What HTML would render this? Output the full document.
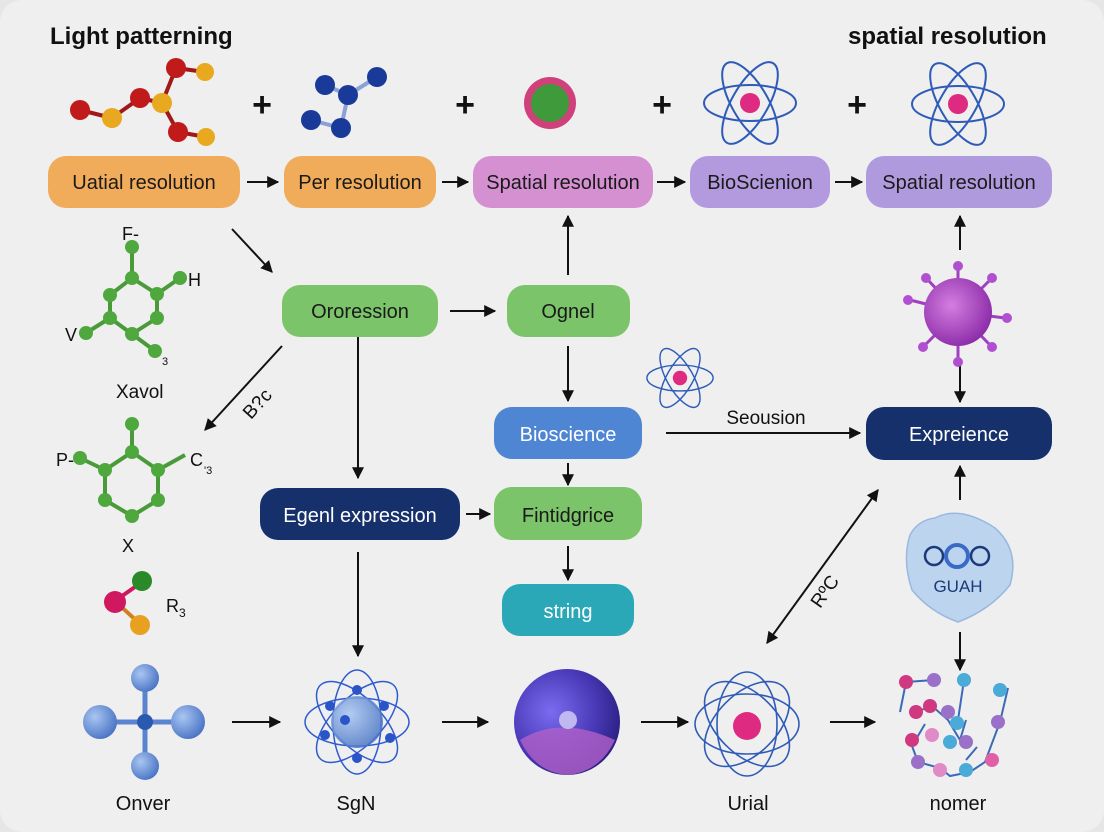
<!DOCTYPE html>
<html><head><meta charset="utf-8"><style>
html,body{margin:0;padding:0;background:#e6e6e6;}
svg{display:block;}
text{font-family:"Liberation Sans",sans-serif;}
</style></head><body>
<svg width="1104" height="832" viewBox="0 0 1104 832" xmlns="http://www.w3.org/2000/svg">
<defs>
<marker id="ah" viewBox="0 0 10 10" refX="9" refY="5" markerWidth="6" markerHeight="6" orient="auto-start-reverse"><path d="M0,0 L10,5 L0,10 z" fill="#111"/></marker>
<radialGradient id="gb" cx="35%" cy="35%" r="70%"><stop offset="0" stop-color="#a9c6f2"/><stop offset="1" stop-color="#4a74c4"/></radialGradient>
<radialGradient id="gsph" cx="35%" cy="40%" r="70%"><stop offset="0" stop-color="#7a6cf0"/><stop offset="0.6" stop-color="#4a3ab8"/><stop offset="1" stop-color="#2a1e80"/></radialGradient>
<radialGradient id="gv" cx="40%" cy="40%" r="65%"><stop offset="0" stop-color="#d47ee0"/><stop offset="1" stop-color="#8a2aa8"/></radialGradient>
<g id="atom" fill="none" stroke="#2e5bb8" stroke-width="2">
<ellipse cx="0" cy="0" rx="46" ry="18"/>
<ellipse cx="0" cy="0" rx="46" ry="18" transform="rotate(60)"/>
<ellipse cx="0" cy="0" rx="46" ry="18" transform="rotate(120)"/>
<circle cx="0" cy="0" r="10" fill="#de2a80" stroke="none"/>
</g>
</defs>
<rect x="0" y="0" width="1104" height="832" rx="22" fill="#efefef"/>
<text x="50" y="44" font-size="24" font-weight="bold" fill="#111">Light patterning</text>
<text x="848" y="44" font-size="24" font-weight="bold" fill="#111">spatial resolution</text>
<!-- top molecules -->
<g stroke="#a01818" stroke-width="4"><line x1="80" y1="110" x2="112" y2="118"/><line x1="112" y1="118" x2="140" y2="98"/><line x1="140" y1="98" x2="162" y2="103"/><line x1="162" y1="103" x2="176" y2="68"/><line x1="176" y1="68" x2="205" y2="72"/><line x1="162" y1="103" x2="178" y2="132"/><line x1="178" y1="132" x2="206" y2="137"/></g>
<circle cx="80" cy="110" r="10" fill="#c01a1a"/><circle cx="112" cy="118" r="10" fill="#e8a820"/><circle cx="140" cy="98" r="10" fill="#c01a1a"/><circle cx="162" cy="103" r="10" fill="#e8a820"/><circle cx="176" cy="68" r="10" fill="#c01a1a"/><circle cx="205" cy="72" r="9" fill="#e8a820"/><circle cx="178" cy="132" r="10" fill="#c01a1a"/><circle cx="206" cy="137" r="9" fill="#e8a820"/>
<g stroke="#8aa0d8" stroke-width="4"><line x1="325" y1="85" x2="348" y2="95"/><line x1="348" y1="95" x2="377" y2="77"/><line x1="348" y1="95" x2="341" y2="128"/><line x1="341" y1="128" x2="311" y2="120"/></g>
<circle cx="325" cy="85" r="10" fill="#1a3a9a"/><circle cx="348" cy="95" r="10" fill="#1a3a9a"/><circle cx="377" cy="77" r="10" fill="#1a3a9a"/><circle cx="341" cy="128" r="10" fill="#1a3a9a"/><circle cx="311" cy="120" r="10" fill="#1a3a9a"/>
<circle cx="550" cy="103" r="26" fill="#d0407a"/><circle cx="550" cy="103" r="19" fill="#3e9a3a"/>
<use href="#atom" x="750" y="103"/>
<use href="#atom" x="958" y="104"/>
<g font-size="34" font-weight="bold" fill="#111" text-anchor="middle"><text x="262" y="116">+</text><text x="465" y="116">+</text><text x="662" y="116">+</text><text x="857" y="116">+</text></g>
<!-- top boxes -->
<rect x="48" y="156" width="192" height="52" rx="18" fill="#f0ac5a"/>
<rect x="284" y="156" width="152" height="52" rx="18" fill="#f0ac5a"/>
<rect x="473" y="156" width="180" height="52" rx="18" fill="#d590d2"/>
<rect x="690" y="156" width="140" height="52" rx="18" fill="#b39ade"/>
<rect x="866" y="156" width="186" height="52" rx="18" fill="#b09ade"/>
<g font-size="20" fill="#1a1a1a" text-anchor="middle"><text x="144" y="189">Uatial resolution</text><text x="360" y="189">Per resolution</text><text x="563" y="189">Spatial resolution</text><text x="760" y="189">BioScienion</text><text x="959" y="189">Spatial resolution</text></g>
<g stroke="#111" stroke-width="2" marker-end="url(#ah)" fill="none">
<line x1="247" y1="182" x2="278" y2="182"/><line x1="442" y1="182" x2="468" y2="182"/><line x1="657" y1="182" x2="685" y2="182"/><line x1="835" y1="182" x2="862" y2="182"/>
<line x1="232" y1="229" x2="272" y2="272"/>
<line x1="450" y1="311" x2="495" y2="311"/>
<line x1="568" y1="275" x2="568" y2="216"/>
<line x1="960" y1="250" x2="960" y2="216"/>
<line x1="568" y1="346" x2="568" y2="401"/>
<line x1="960" y1="366" x2="960" y2="402"/>
<line x1="282" y1="346" x2="205" y2="430"/>
<line x1="358" y1="336" x2="358" y2="478"/>
<line x1="358" y1="552" x2="358" y2="656"/>
<line x1="568" y1="463" x2="568" y2="485"/>
<line x1="466" y1="514" x2="490" y2="514"/>
<line x1="568" y1="546" x2="568" y2="580"/>
<line x1="666" y1="433" x2="860" y2="433"/>
<line x1="960" y1="500" x2="960" y2="466"/>
<line x1="960" y1="632" x2="960" y2="670"/>
<line x1="767" y1="643" x2="878" y2="490" marker-start="url(#ah)"/>
<line x1="232" y1="722" x2="280" y2="722"/><line x1="442" y1="722" x2="488" y2="722"/><line x1="641" y1="722" x2="688" y2="722"/><line x1="830" y1="722" x2="875" y2="722"/>
</g>
<!-- mid boxes -->
<rect x="282" y="285" width="156" height="52" rx="18" fill="#7cc46a"/>
<rect x="507" y="285" width="123" height="52" rx="18" fill="#7cc46a"/>
<rect x="494" y="407" width="148" height="52" rx="18" fill="#4f86d4"/>
<rect x="866" y="407" width="186" height="53" rx="18" fill="#15306a"/>
<rect x="260" y="488" width="200" height="52" rx="18" fill="#15306a"/>
<rect x="494" y="487" width="148" height="53" rx="18" fill="#7cc46a"/>
<rect x="502" y="584" width="132" height="52" rx="18" fill="#2aa8b8"/>
<g font-size="20" text-anchor="middle"><text x="360" y="318" fill="#1a1a1a">Ororession</text><text x="568" y="318" fill="#1a1a1a">Ognel</text><text x="568" y="441" fill="#fff">Bioscience</text><text x="959" y="441" fill="#fff">Expreience</text><text x="360" y="522" fill="#fff">Egenl expression</text><text x="568" y="522" fill="#1a1a1a">Fintidgrice</text><text x="568" y="618" fill="#fff">string</text></g>
<text x="766" y="424" font-size="19" text-anchor="middle" fill="#111">Seousion</text>
<text x="830" y="595" font-size="19" fill="#111" transform="rotate(-55 830 595)" text-anchor="middle">RºC</text>
<text x="262" y="408" font-size="19" fill="#111" transform="rotate(-48 262 408)" text-anchor="middle">B?c</text>
<!-- left green molecule 1 -->
<g stroke="#4a9a3a" stroke-width="4"><line x1="132" y1="245" x2="132" y2="278"/><line x1="132" y1="278" x2="110" y2="295"/><line x1="132" y1="278" x2="157" y2="294"/><line x1="157" y1="294" x2="180" y2="278"/><line x1="110" y1="295" x2="110" y2="318"/><line x1="157" y1="294" x2="157" y2="318"/><line x1="110" y1="318" x2="132" y2="334"/><line x1="157" y1="318" x2="132" y2="334"/><line x1="110" y1="318" x2="86" y2="333"/><line x1="132" y1="334" x2="155" y2="351"/></g>
<g fill="#4ea83e"><circle cx="132" cy="247" r="7"/><circle cx="132" cy="278" r="7"/><circle cx="110" cy="295" r="7"/><circle cx="157" cy="294" r="7"/><circle cx="180" cy="278" r="7"/><circle cx="110" cy="318" r="7"/><circle cx="157" cy="318" r="7"/><circle cx="132" cy="334" r="7"/><circle cx="86" cy="333" r="7"/><circle cx="155" cy="351" r="7"/></g>
<g font-size="18" fill="#111"><text x="122" y="240">F-</text><text x="188" y="286">H</text><text x="65" y="341">V</text><text x="162" y="365" font-size="11">3</text><text x="116" y="398" font-size="19">Xavol</text></g>
<!-- left green molecule 2 -->
<g stroke="#4a9a3a" stroke-width="4"><line x1="132" y1="424" x2="132" y2="452"/><line x1="132" y1="452" x2="105" y2="470"/><line x1="132" y1="452" x2="158" y2="470"/><line x1="158" y1="470" x2="185" y2="455"/><line x1="105" y1="470" x2="80" y2="458"/><line x1="105" y1="470" x2="105" y2="500"/><line x1="158" y1="470" x2="158" y2="500"/><line x1="105" y1="500" x2="132" y2="516"/><line x1="158" y1="500" x2="132" y2="516"/></g>
<g fill="#4ea83e"><circle cx="132" cy="424" r="7"/><circle cx="132" cy="452" r="7"/><circle cx="105" cy="470" r="7"/><circle cx="158" cy="470" r="7"/><circle cx="80" cy="458" r="7"/><circle cx="105" cy="500" r="7"/><circle cx="158" cy="500" r="7"/><circle cx="132" cy="516" r="7"/></g>
<g font-size="18" fill="#111"><text x="56" y="466">P-</text><text x="190" y="466">C</text><text x="204" y="474" font-size="11">'3</text><text x="122" y="552">X</text></g>
<!-- R3 molecule -->
<line x1="115" y1="601" x2="142" y2="582" stroke="#d01860" stroke-width="4"/><line x1="115" y1="601" x2="140" y2="624" stroke="#d08020" stroke-width="4"/>
<circle cx="142" cy="581" r="10" fill="#2a8a2a"/><circle cx="115" cy="602" r="11" fill="#d01860"/><circle cx="140" cy="625" r="10" fill="#e8a020"/>
<text x="166" y="612" font-size="18" fill="#111">R<tspan font-size="12" dy="5">3</tspan></text>
<!-- Onver -->
<g stroke="#5a84d0" stroke-width="5"><line x1="145" y1="680" x2="145" y2="764"/><line x1="100" y1="722" x2="188" y2="722"/></g>
<circle cx="145" cy="678" r="14" fill="url(#gb)"/><circle cx="145" cy="766" r="14" fill="url(#gb)"/><circle cx="100" cy="722" r="17" fill="url(#gb)"/><circle cx="188" cy="722" r="17" fill="url(#gb)"/><circle cx="145" cy="722" r="8" fill="#2a5ab0"/>
<!-- SgN -->
<g fill="none" stroke="#2e5bd0" stroke-width="1.5"><ellipse cx="357" cy="722" rx="52" ry="24"/><ellipse cx="357" cy="722" rx="52" ry="24" transform="rotate(45 357 722)"/><ellipse cx="357" cy="722" rx="52" ry="24" transform="rotate(90 357 722)"/><ellipse cx="357" cy="722" rx="52" ry="24" transform="rotate(135 357 722)"/></g>
<circle cx="357" cy="722" r="26" fill="url(#gb)" opacity="0.85"/>
<g fill="#2a55c8"><circle cx="357" cy="690" r="5"/><circle cx="330" cy="706" r="5"/><circle cx="384" cy="706" r="5"/><circle cx="325" cy="735" r="5"/><circle cx="390" cy="738" r="5"/><circle cx="357" cy="758" r="5"/><circle cx="345" cy="720" r="5"/></g>
<!-- sphere -->
<circle cx="567" cy="722" r="53" fill="url(#gsph)"/>
<path d="M520,740 Q560,715 615,740 Q600,772 567,775 Q535,772 520,740z" fill="#b060c8" opacity="0.8"/>
<circle cx="568" cy="720" r="9" fill="#c0b8f0"/>
<!-- Urial -->
<g fill="none" stroke="#2e5bb8" stroke-width="1.6"><ellipse cx="747" cy="724" rx="52" ry="30"/><ellipse cx="747" cy="724" rx="52" ry="30" transform="rotate(45 747 724)"/><ellipse cx="747" cy="724" rx="52" ry="30" transform="rotate(90 747 724)"/><ellipse cx="747" cy="724" rx="52" ry="30" transform="rotate(135 747 724)"/></g>
<circle cx="747" cy="726" r="14" fill="#de2a80"/>
<!-- nomer -->
<g stroke="#3a6ab8" stroke-width="2" fill="none"><polyline points="906,682 934,680 "/><polyline points="925,724 912,746 918,762 940,768 950,776 970,772 985,762 1000,722 1008,688"/><polyline points="916,712 932,706 948,720 960,740 966,720"/><polyline points="964,680 958,720"/><polyline points="906,682 900,712"/><polyline points="977,747 966,760"/></g>
<g><circle cx="906" cy="682" r="7" fill="#d03880"/><circle cx="934" cy="680" r="7" fill="#9a70c8"/><circle cx="964" cy="680" r="7" fill="#4aaad8"/><circle cx="1000" cy="690" r="7" fill="#4aaad8"/><circle cx="916" cy="712" r="7" fill="#d03880"/><circle cx="930" cy="706" r="7" fill="#d03880"/><circle cx="948" cy="712" r="7" fill="#9a70c8"/><circle cx="957" cy="723" r="7" fill="#4aaad8"/><circle cx="998" cy="722" r="7" fill="#9a70c8"/><circle cx="912" cy="740" r="7" fill="#d03880"/><circle cx="932" cy="735" r="7" fill="#e08ac8"/><circle cx="950" cy="742" r="7" fill="#4aaad8"/><circle cx="966" cy="742" r="7" fill="#9a70c8"/><circle cx="992" cy="760" r="7" fill="#e060a8"/><circle cx="918" cy="762" r="7" fill="#9a70c8"/><circle cx="940" cy="770" r="7" fill="#e08ac8"/><circle cx="966" cy="770" r="7" fill="#4aaad8"/></g>
<!-- small atom -->
<g transform="translate(680,378) scale(0.72)"><use href="#atom"/></g>
<!-- virus -->
<g stroke="#a040c0" stroke-width="3"><line x1="958" y1="312" x2="958" y2="268"/><line x1="958" y1="312" x2="990" y2="280"/><line x1="958" y1="312" x2="1005" y2="318"/><line x1="958" y1="312" x2="990" y2="345"/><line x1="958" y1="312" x2="958" y2="360"/><line x1="958" y1="312" x2="925" y2="345"/><line x1="958" y1="312" x2="910" y2="300"/><line x1="958" y1="312" x2="928" y2="280"/></g>
<g fill="#b050d0"><circle cx="958" cy="266" r="5"/><circle cx="992" cy="278" r="5"/><circle cx="1007" cy="318" r="5"/><circle cx="992" cy="347" r="5"/><circle cx="958" cy="362" r="5"/><circle cx="923" cy="347" r="5"/><circle cx="908" cy="300" r="5"/><circle cx="926" cy="278" r="5"/></g>
<circle cx="958" cy="312" r="34" fill="url(#gv)"/>
<!-- GUAH -->
<path d="M935,518 Q960,505 995,528 Q1020,550 1010,585 Q990,610 958,622 Q930,612 912,590 Q902,560 910,535 Q918,520 935,518z" fill="#bcd4ee" stroke="#9ab8de" stroke-width="1.5"/>
<g fill="none" stroke="#1a3a7a" stroke-width="2.5"><circle cx="934" cy="556" r="9"/><circle cx="980" cy="556" r="9"/><circle cx="957" cy="556" r="11" stroke="#3a6ac8" stroke-width="4"/></g>
<text x="958" y="592" font-size="17" text-anchor="middle" fill="#1a3a7a">GUAH</text>
<!-- bottom labels -->
<g font-size="20" fill="#111" text-anchor="middle"><text x="143" y="810">Onver</text><text x="356" y="810">SgN</text><text x="748" y="810">Urial</text><text x="958" y="810">nomer</text></g>
</svg>
</body></html>
